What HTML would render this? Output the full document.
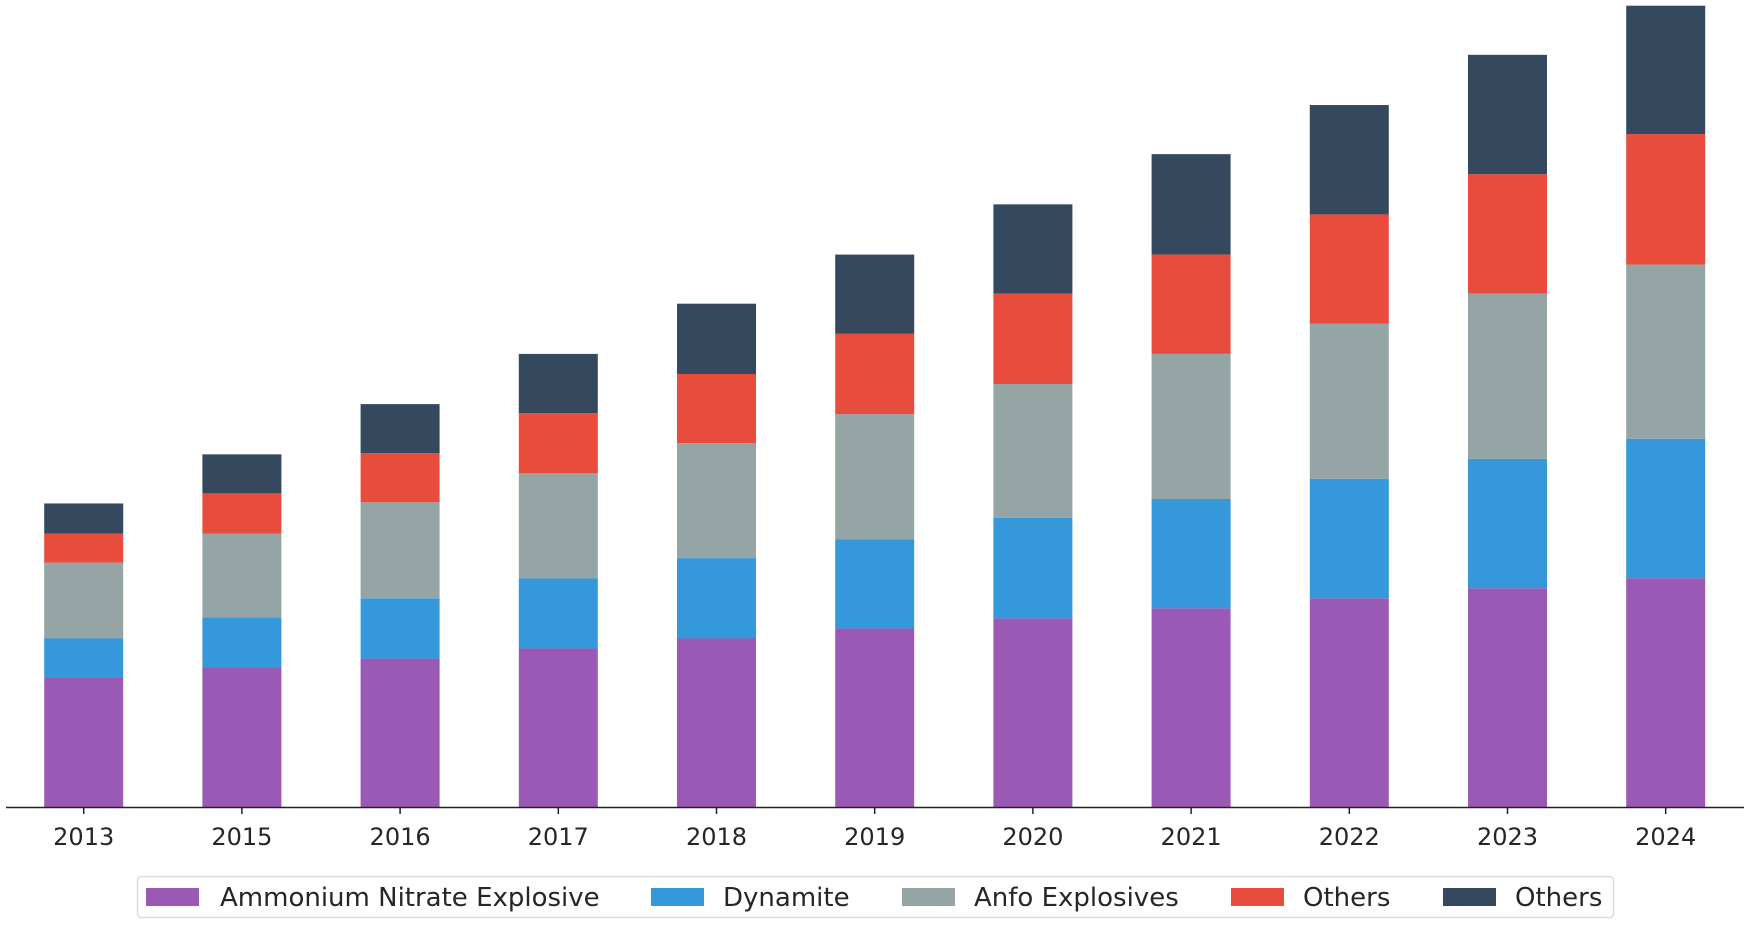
<!DOCTYPE html>
<html><head><meta charset="utf-8"><style>
body{margin:0;background:#fff;}
svg{display:block;font-family:"DejaVu Sans","Liberation Sans",sans-serif;}
</style></head><body>
<svg id="chart" width="1750" height="927" viewBox="0 0 1750 927" xmlns="http://www.w3.org/2000/svg">
<g id="bars"></g>
<line x1="6" y1="807.5" x2="1744" y2="807.5" stroke="#222" stroke-width="1.6"/>
<g id="ticks"></g>
<g>
<rect x="137.5" y="876.5" width="1476" height="41" rx="4" fill="#fff" stroke="#ddd" stroke-width="1.5"/>
<g id="legend-items"></g>
</g>
</svg>
<script>
const years = ["2013","2015","2016","2017","2018","2019","2020","2021","2022","2023","2024"];
const ammonium = [116,125,133,142,151,160,169,178,187,196,205];
const dynamite = [35,45,54,63,72,80,90,98,107,116,125];
const anfo = [68,75,86,94,103,112,120,130,139,148,156];
const others1 = [26,36,44,54,62,72,81,89,98,107,117];
const others2 = [27,35,44,53,63,71,80,90,98,107,115];
const seriesNames = ["Ammonium Nitrate Explosive","Dynamite","Anfo Explosives","Others","Others"];
const colors = ["#9b59b6","#3498db","#95a5a6","#e74c3c","#34495e"];
const series = [ammonium, dynamite, anfo, others1, others2];
const NS = "http://www.w3.org/2000/svg";
const baseY = 807, yk = 1.116;
const x0 = 83.7, step = 158.2, bw = 79;
const xc = i => x0 + i * step;
const ys = v => baseY - v * yk;
const bars = document.getElementById('bars');
const ticks = document.getElementById('ticks');
years.forEach((yr, i) => {
  let cum = 0;
  series.forEach((s, k) => {
    const r = document.createElementNS(NS, 'rect');
    
    
    const top = ys(cum + s[i]);
    r.setAttribute('x', xc(i) - bw / 2);
    r.setAttribute('y', top);
    r.setAttribute('width', bw);
    r.setAttribute('height', ys(cum) - top);
    r.setAttribute('fill', colors[k]);
    bars.appendChild(r);
    cum += s[i];
  });
  const t = document.createElementNS(NS, 'line');
  
  
  t.setAttribute('x1', xc(i)); t.setAttribute('x2', xc(i));
  t.setAttribute('y1', baseY); t.setAttribute('y2', baseY + 7);
  t.setAttribute('stroke', '#222'); t.setAttribute('stroke-width', '1.5');
  ticks.appendChild(t);
  const lb = document.createElementNS(NS, 'text');
  
  
  lb.setAttribute('x', xc(i)); lb.setAttribute('y', 845);
  lb.setAttribute('text-anchor', 'middle');
  lb.setAttribute('font-size', '24'); lb.setAttribute('fill', '#262626');
  lb.textContent = yr;
  ticks.appendChild(lb);
});
const patchX = [146, 651, 902, 1231, 1443];
const textX = [220, 723, 974, 1303, 1515];
const lg = document.getElementById('legend-items');
seriesNames.forEach((n, k) => {
  const p = document.createElementNS(NS, 'rect');
  
  
  p.setAttribute('x', patchX[k]); p.setAttribute('y', 888);
  p.setAttribute('width', 53); p.setAttribute('height', 18);
  p.setAttribute('fill', colors[k]);
  lg.appendChild(p);
  const t = document.createElementNS(NS, 'text');
  
  
  t.setAttribute('x', textX[k]); t.setAttribute('y', 906);
  t.setAttribute('font-size', '26'); t.setAttribute('fill', '#262626');
  t.textContent = n;
  lg.appendChild(t);
});
</script>
</body></html>
